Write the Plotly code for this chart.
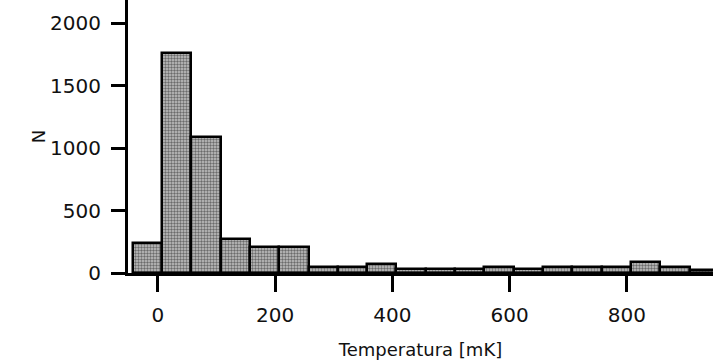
import plotly.graph_objects as go

# Histogram bins (mK): 50 mK wide
bin_left_edges = [-43, 7, 57, 107, 157, 207, 257, 307, 357, 407,
                  457, 507, 557, 607, 657, 707, 757, 807, 857, 907]
counts = [240, 1760, 1090, 275, 205, 205, 50, 50, 70, 30,
          30, 30, 50, 30, 50, 50, 50, 90, 50, 25]
bin_width = 50
x_ticks = [0, 200, 400, 600, 800]
y_ticks = [0, 500, 1000, 1500, 2000]

centers = [e + bin_width / 2 for e in bin_left_edges]

fig = go.Figure(go.Bar(
    x=centers, y=counts, width=[bin_width] * len(counts),
    marker=dict(
        color="#a8a8a8",
        line=dict(color="black", width=2.5),
        pattern=dict(shape=".", size=3, solidity=0.5, fgcolor="#111", bgcolor="#c4c4c4"),
    ),
))

tf = dict(family="DejaVu Sans", size=20, color="#111")
fig.update_layout(
    width=713, height=364,
    margin=dict(l=128, r=0, t=0, b=91),
    paper_bgcolor="white", plot_bgcolor="white",
    showlegend=False,
    bargap=0,
    xaxis=dict(
        range=[-51, 947], tickvals=x_ticks, ticks="outside", ticklen=16, tickwidth=3,
        tickcolor="black", showline=True, linecolor="black", linewidth=3,
        showgrid=False, zeroline=False, tickfont=tf, ticklabelstandoff=6,
        title=dict(text="Temperatura [mK]", font=dict(family="DejaVu Sans", size=18, color="#111"), standoff=18),
    ),
    yaxis=dict(
        range=[0, 2184], tickvals=y_ticks, ticks="outside", ticklen=14, tickwidth=3,
        tickcolor="black", showline=True, linecolor="black", linewidth=3,
        showgrid=False, zeroline=False, tickfont=tf, ticklabelstandoff=6,
        title=dict(text="N", font=dict(family="DejaVu Sans", size=18, color="#111"), standoff=0),
    ),
)

fig.write_html("out.html")
